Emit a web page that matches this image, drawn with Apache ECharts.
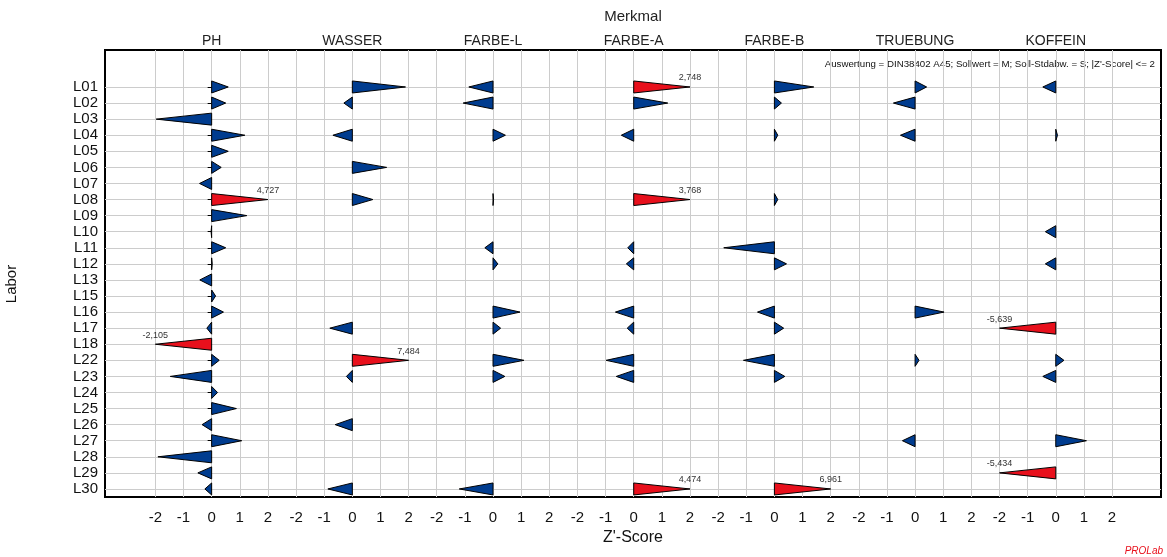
<!DOCTYPE html>
<html><head><meta charset="utf-8">
<script src="https://cdn.jsdelivr.net/npm/echarts@6/dist/echarts.min.js"></script>
<style>html,body{margin:0;padding:0;background:#fff}#c{width:1167px;height:557px}</style>
</head><body><div id="c"></div>
<script>
const labs = ['L01','L02','L03','L04','L05','L06','L07','L08','L09','L10','L11','L12','L13','L15','L16','L17','L18','L22','L23','L24','L25','L26','L27','L28','L29','L30'];
const merkmale = ['PH','WASSER','FARBE-L','FARBE-A','FARBE-B','TRUEBUNG','KOFFEIN'];
const tickLabels = ['-2','-1','0','1','2'];
//               L01   L02   L03   L04   L05   L06   L07   L08   L09   L10   L11   L12   L13   L15   L16   L17    L18    L22   L23   L24   L25   L26   L27   L28   L29    L30
const ph       = [0.59, 0.50,-1.97, 1.18, 0.59, 0.34,-0.43,4.727, 1.25,-0.02, 0.50, 0.02,-0.42, 0.14, 0.42,-0.17,-2.105, 0.27,-1.47, 0.21, 0.88,-0.34, 1.07,-1.91,-0.49, -0.24];
const wasser   = [1.89,-0.30, null,-0.69, null, 1.22, null, 0.73, null, null, null, null, null, null, null,-0.80,  null,7.484,-0.21, null, null,-0.61, null, null, null, -0.87];
const farbeL   = [-0.86,-1.06,null, 0.44, null, null, null, 0.02, null, null,-0.29, 0.17, null, null, 0.96, 0.27,  null, 1.10, 0.42, null, null, null, null, null, null, -1.20];
const farbeA   = [2.748,1.21, null,-0.44, null, null, null,3.768, null, null,-0.21,-0.26, null, null,-0.65,-0.23,  null,-0.98,-0.62, null, null, null, null, null, null, 4.474];
const farbeB   = [1.40, 0.25, null, 0.12, null, null, null, 0.12, null, null,-1.80, 0.43, null, null,-0.60, 0.33,  null,-1.10, 0.37, null, null, null, null, null, null, 6.961];
const truebung = [0.41,-0.77, null,-0.52, null, null, null, null, null, null, null, null, null, null, 1.03, null,  null, 0.14, null, null, null, null,-0.45, null, null,  null];
const koffein  = [-0.46,null, null, 0.06, null, null, null, null, null,-0.37, null,-0.37, null, null, null,-5.639, null, 0.29,-0.46, null, null, null, 1.09, null,-5.434, null];

const seriesValues = [ph, wasser, farbeL, farbeA, farbeB, truebung, koffein];
const LIMIT = 2;
const PANEL = 5; // axis units per Merkmal panel

const data = [];
seriesValues.forEach((arr, k) => arr.forEach((v, i) => { if (v !== null) data.push([k, i, v]); }));

const gridTicks = [];
for (let k = 0; k < merkmale.length; k++) for (let t = -2; t <= 2; t++) gridTicks.push(k * PANEL + t);
const panelCenters = merkmale.map((m, k) => k * PANEL);
const rowTicks = labs.map((l, i) => i);

const FONT = "'Liberation Sans', Arial, sans-serif";
const chart = echarts.init(document.getElementById('c'));
chart.setOption({
  animation: false,
  backgroundColor: '#fff',
  grid: { left: 105, right: 6, top: 50, bottom: 60, show: true, borderColor: '#000', borderWidth: 2, backgroundColor: 'transparent' },
  xAxis: [{
    type: 'value', position: 'bottom', min: -3.79, max: 33.74,
    axisLine: { show: false },
    axisTick: { show: false, customValues: gridTicks },
    axisLabel: { customValues: gridTicks, margin: 13, fontSize: 15, fontFamily: FONT, color: '#111',
      formatter: v => tickLabels[(((Math.round(v) + 2) % PANEL) + PANEL) % PANEL] },
    splitLine: { show: true, lineStyle: { color: '#cccccc', width: 1 } },
    name: "Z'-Score", nameLocation: 'middle', nameGap: 29,
    nameTextStyle: { fontSize: 16, fontFamily: FONT, color: '#111' }
  }, {
    type: 'value', position: 'top', min: -3.79, max: 33.74,
    axisLine: { show: false }, axisTick: { show: false, customValues: panelCenters },
    splitLine: { show: false },
    axisLabel: { customValues: panelCenters, margin: 2, fontSize: 14, fontFamily: FONT, color: '#222',
      formatter: v => merkmale[Math.round(v / PANEL)] },
    name: 'Merkmal', nameLocation: 'middle', nameGap: 26,
    nameTextStyle: { fontSize: 15, fontFamily: FONT, color: '#222' }
  }],
  yAxis: {
    type: 'value', inverse: true, min: -2.3, max: 25.5,
    axisLine: { show: false },
    axisTick: { show: true, customValues: rowTicks, length: 4, lineStyle: { color: '#000' } },
    axisLabel: { customValues: rowTicks, margin: 7, fontSize: 15, fontFamily: FONT, color: '#111',
      formatter: v => labs[Math.round(v)] },
    splitLine: { show: true, lineStyle: { color: '#cccccc', width: 1 } }
  },
  graphic: [
    { type: 'text', x: 1155, y: 64, style: { text: "Auswertung = DIN38402 A45; Sollwert = M; Soll-Stdabw. = S; |Z'-Score| <= 2",
      font: '9.7px ' + FONT, fill: '#111', textAlign: 'right', textVerticalAlign: 'middle' } },
    { type: 'text', x: 12, y: 284, rotation: Math.PI / 2, style: { text: 'Labor', font: '15px ' + FONT, fill: '#111', textAlign: 'center', textVerticalAlign: 'middle' } },
    { type: 'text', x: 1163, y: 551, style: { text: 'PROLab', font: 'italic 10px ' + FONT, fill: '#e8101c', textAlign: 'right', textVerticalAlign: 'middle' } }
  ],
  series: [{
    type: 'custom',
    xAxisIndex: 0,
    data: data,
    clip: false,
    renderItem: function (params, api) {
      const k = api.value(0), i = api.value(1), v = api.value(2);
      const vc = Math.max(-LIMIT, Math.min(LIMIT, v));
      const base = api.coord([k * PANEL, i]);
      const tip = api.coord([k * PANEL + vc, i]);
      const h = 6;
      const out = Math.abs(v) > LIMIT;
      const children = [{
        type: 'polygon',
        shape: { points: [[base[0], base[1] - h], [base[0], base[1] + h], [tip[0], tip[1]]] },
        style: { fill: out ? '#e8101c' : '#003c8f', stroke: '#000', lineWidth: 1 }
      }];
      if (out) {
        children.push({ type: 'text', x: tip[0], y: tip[1] - 9,
          style: { text: v.toFixed(3).replace('.', ','), font: '9px ' + FONT, fill: '#333', textAlign: 'center', textVerticalAlign: 'middle' } });
      }
      return { type: 'group', children: children };
    }
  }]
});
</script></body></html>
